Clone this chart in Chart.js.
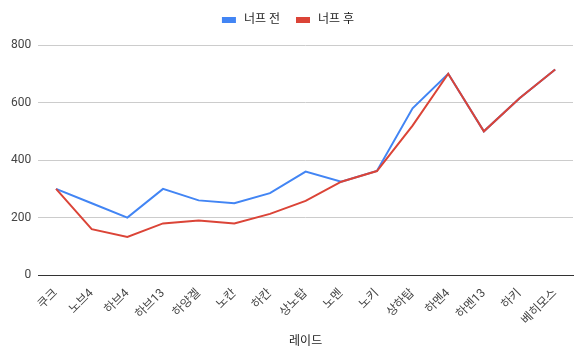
<!DOCTYPE html>
<html>
<head>
<meta charset="utf-8">
<script src="https://cdn.jsdelivr.net/npm/chart.js@4"></script>
<style>
  body { margin: 0; background: #fff; }
  #wrap { width: 588px; height: 353px; }
</style>
</head>
<body>
<div id="wrap"><canvas id="chart" width="588" height="353"></canvas></div>
<script>
const raids = ["쿠크", "노브4", "하브4", "하브13", "하양겔", "노칸", "하칸", "상노탑", "노멘", "노키", "상하탑", "하멘4", "하멘13", "하키", "베히모스"];
const beforeNerf = [300, 250, 200, 300, 260, 250, 285, 360, 325, 362, 580, 700, 500, 615, 715];
const afterNerf = [300, 160, 133, 180, 190, 180, 213, 258, 325, 362, 520, 700, 500, 615, 715];
const yTicks = [0, 200, 400, 600, 800];

const font = "Roboto, 'Noto Sans CJK KR', sans-serif";

// 범례 아래 여백 조정
const legendGap = {
    id: 'legendGap',
    beforeInit(chart) {
        const fit = chart.legend.fit;
        chart.legend.fit = function () {
            fit.bind(chart.legend)();
            this.height += 9;
        };
    }
};

const ctx = document.getElementById("chart").getContext("2d");

new Chart(ctx, {
    type: 'line',
    data: {
        labels: raids,
        datasets: [
            {
                label: " 너프 전",
                data: beforeNerf,
                borderColor: "#4285F4",
                backgroundColor: "#4285F4",
                borderWidth: 2,
                pointRadius: 0,
                tension: 0,
                order: 2
            },
            {
                label: " 너프 후",
                data: afterNerf,
                borderColor: "#DB4437",
                backgroundColor: "#DB4437",
                borderWidth: 2,
                pointRadius: 0,
                tension: 0,
                order: 1
            }
        ]
    },
    options: {
        responsive: false,
        animation: false,
        layout: { padding: { left: 4, right: 15, top: -3, bottom: 0 } },
        plugins: {
            legend: {
                position: 'top',
                labels: {
                    font: { family: font, size: 12 },
                    color: "#222",
                    boxWidth: 12,
                    boxHeight: 4,
                    padding: 17,
                    sort: (a, b) => a.datasetIndex - b.datasetIndex
                }
            },
            tooltip: { enabled: false }
        },
        scales: {
            x: {
                offset: true,
                grid: { display: false },
                border: { color: "#333" },
                ticks: {
                    font: { family: font, size: 12 },
                    color: "#444",
                    minRotation: 45,
                    maxRotation: 45,
                    autoSkip: false
                },
                title: {
                    display: true,
                    text: "레이드",
                    font: { family: font, size: 12 },
                    color: "#222"
                }
            },
            y: {
                min: 0,
                max: 800,
                afterBuildTicks: axis => {
                    axis.ticks = yTicks.map(v => ({ value: v }));
                },
                grid: {
                    color: c => c.tick && c.tick.value === 0 ? "#333" : "#ccc",
                    drawTicks: false
                },
                border: { display: false },
                ticks: {
                    font: { family: font, size: 12 },
                    color: "#444",
                    padding: 7
                }
            }
        }
    },
    plugins: [legendGap]
});
</script>
</body>
</html>
